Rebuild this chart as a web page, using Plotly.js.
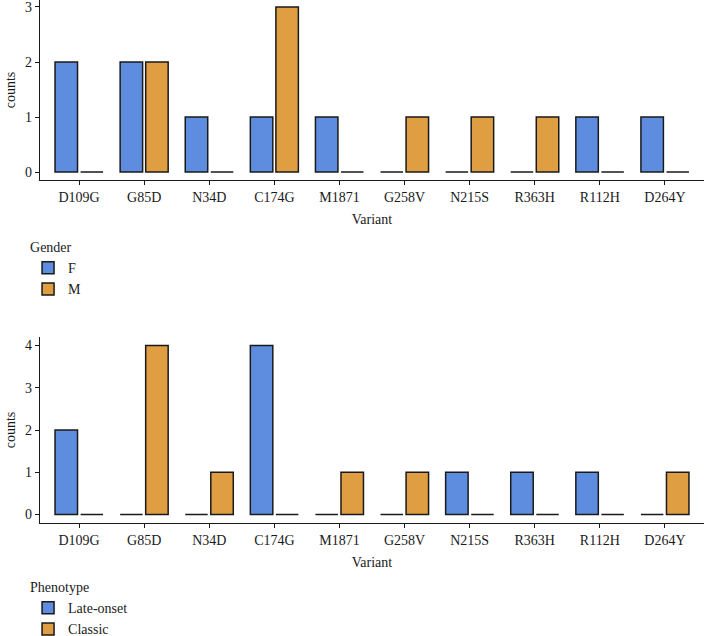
<!DOCTYPE html>
<html><head><meta charset="utf-8">
<script src="https://cdn.plot.ly/plotly-3.0.1.min.js"></script>
<style>html,body{margin:0;padding:0;background:#fff}#c{width:705px;height:636px}</style>
</head><body><div id="c"></div>
<script>
const variants = ["D109G","G85D","N34D","C174G","M1871","G258V","N215S","R363H","R112H","D264Y"];
const genderF = [2,2,1,1,1,0,0,0,1,1];
const genderM = [0,2,0,3,0,1,1,1,0,0];
const lateOnset = [2,0,0,4,0,0,1,1,1,0];
const classic = [0,4,1,0,1,1,0,0,0,1];
const blue = "#5E8DE0", orange = "#E09E43";
const FONT = "Liberation Serif, Times New Roman, serif";
const line = {color:"#1a1a1a", width:1.5};
function bar(y, name, color, xa, ya, leg){
  return {type:"bar", x:variants, y:y, name:name, xaxis:xa, yaxis:ya, legend:leg,
    marker:{color:color, line:line}, hoverinfo:"x+y"};
}
const data = [
  bar(genderF,"F",blue,"x","y","legend"),
  bar(genderM,"M",orange,"x","y","legend"),
  bar(lateOnset,"Late-onset",blue,"x2","y2","legend2"),
  bar(classic,"Classic",orange,"x2","y2","legend2")
];
const H=636;
function ax(extra){return Object.assign({showline:true, linecolor:"#1a1a1a", linewidth:1.2, ticks:"outside",
  ticklen:4, tickcolor:"#1a1a1a", tickwidth:1, showgrid:false, zeroline:false, automargin:false,
  ticklabeloverflow:"allow",
  tickfont:{family:FONT,size:14,color:"#1a1a1a"}},extra);}
const legFont = {family:FONT,size:14,color:"#1a1a1a"};
const layout = {
  width:705, height:636, margin:{l:40,r:1,t:0,b:0, autoexpand:false},
  paper_bgcolor:"#fff", plot_bgcolor:"#fff",
  font:{family:FONT,size:14,color:"#1a1a1a"},
  barmode:"group", bargap:0.215, bargroupgap:0.12,
  xaxis: ax({anchor:"y", range:[-0.6,9.6], domain:[0,1], title:{text:"Variant", font:{family:FONT,size:14}, standoff:10}}),
  yaxis: ax({anchor:"x", domain:[(H-180)/H,1], range:[-0.145,3.127], tickvals:[0,1,2,3],
    title:{text:"counts", font:{family:FONT,size:14}, standoff:6}}),
  xaxis2: ax({anchor:"y2", range:[-0.6,9.6], domain:[0,1], title:{text:"Variant", font:{family:FONT,size:14}, standoff:10}}),
  yaxis2: ax({anchor:"x2", domain:[(H-523)/H,(H-337)/H], range:[-0.2,4.2], tickvals:[0,1,2,3,4],
    title:{text:"counts", font:{family:FONT,size:14}, standoff:6}}),
  legend:{x:-0.018, xanchor:"left", y:(H-234)/H, yanchor:"top", orientation:"v",
    title:{text:"Gender", font:{family:FONT,size:14}}, font:legFont, bgcolor:"rgba(0,0,0,0)"},
  legend2:{x:-0.018, xanchor:"left", y:(H-574)/H, yanchor:"top", orientation:"v",
    title:{text:"Phenotype", font:{family:FONT,size:14}}, font:legFont, bgcolor:"rgba(0,0,0,0)"},
  showlegend:true
};
Plotly.newPlot("c", data, layout, {displayModeBar:false, staticPlot:true});
</script></body></html>
